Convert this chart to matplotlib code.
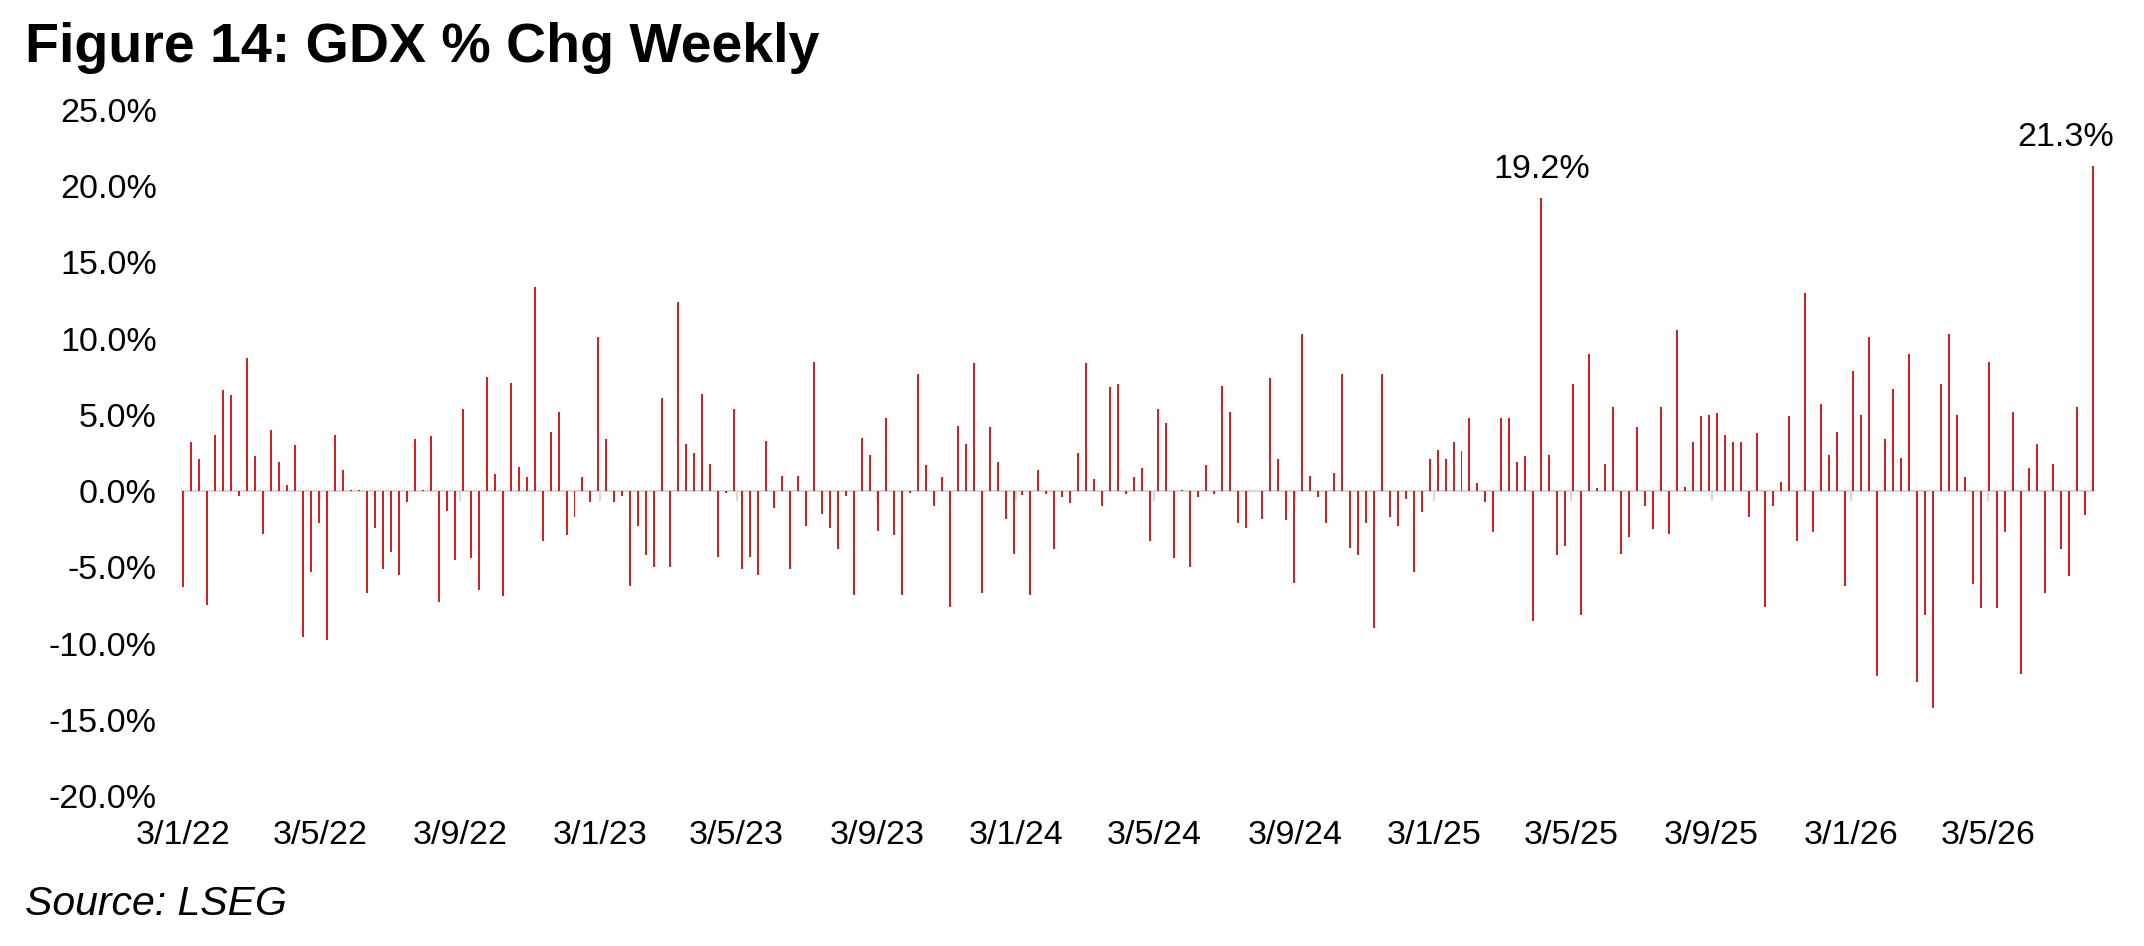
import pandas as pd
import matplotlib
matplotlib.use("Agg")
import matplotlib.pyplot as plt
import matplotlib.dates as mdates
from matplotlib.ticker import FuncFormatter

plt.rcParams['font.family'] = ['Liberation Sans', 'DejaVu Sans']

# weekly % change of GDX, one value per week (Mondays)
chg_2022 = [-6.3, 3.2, 2.1, -7.5, 3.7, 6.6, 6.3, -0.3, 8.7, 2.3,
            -2.8, 4.0, 1.9, 0.4, 3.0, -9.6, -5.3, -2.1, -9.8, 3.7,
            1.4, 0.1, 0.05, -6.7, -2.4, -5.1, -4.0, -5.5, -0.7, 3.4,
            0.1, 3.6, -7.3, -1.3, -4.5, 5.4, -4.4, -6.5, 7.5, 1.1,
            -6.9, 7.1, 1.6, 0.9, 13.4, -3.3, 3.9, 5.2, -2.9, -1.7,
            0.9, -0.7]
chg_2023 = [10.1, 3.4, -0.7, -0.3, -6.2, -2.3, -4.2, -5.0, 6.1, -5.0,
            12.4, 3.1, 2.5, 6.4, 1.8, -4.3, -0.15, 5.4, -5.1, -4.3,
            -5.5, 3.3, -1.1, 1.0, -5.1, 1.0, -2.3, 8.5, -1.5, -2.4,
            -3.8, -0.3, -6.8, 3.5, 2.4, -2.6, 4.8, -2.9, -6.8, -0.1,
            7.7, 1.7, -1.0, 0.9, -7.6, 4.3, 3.1, 8.4, -6.7, 4.2,
            1.9, -1.8]
chg_2024 = [-4.1, -0.25, -6.8, 1.4, -0.2, -3.8, -0.4, -0.8, 2.5, 8.4,
            0.8, -1.0, 6.8, 7.0, -0.2, 0.9, 1.5, -3.3, 5.4, 4.5,
            -4.4, 0.05, -5.0, -0.4, 1.7, -0.2, 6.9, 5.2, -2.1, -2.4,
            0.0, -1.8, 7.4, 2.1, -1.9, -6.0, 10.3, 1.0, -0.4, -2.1,
            1.2, 7.7, -3.7, -4.2, -2.1, -9.0, 7.7, -1.7, -2.3, -0.5,
            -5.3, -1.4, 2.1]
chg_2025 = [2.7, 2.1, 3.2, 2.6, 4.8, 0.5, -0.7, -2.7, 4.8, 4.8,
            1.9, 2.3, -8.5, 19.2, 2.4, -4.2, -3.6, 7.0, -8.1, 9.0,
            0.2, 1.8, 5.5, -4.1, -3.0, 4.2, -1.0, -2.5, 5.5, -2.8,
            10.6, 0.3, 3.2, 4.9, 5.0, 5.1, 3.7, 3.2, 3.2, -1.7,
            3.8, -7.6, -1.0, 0.6, 4.9, -3.3, 13.0, -2.7, 5.7, 2.4,
            3.9, -6.2]
chg_2026 = [7.9, 5.0, 10.1, -12.1, 3.4, 6.7, 2.2, 9.0, -12.5, -8.1,
            -14.2, 7.0, 10.3, 5.0, 0.9, -6.1, -7.7, 8.5, -7.7, -2.7,
            5.2, -12.0, 1.5, 3.1, -6.7, 1.8, -3.8, -5.6, 5.5, -1.6,
            21.3]

first_week = "2022-01-03"
labelled = [19.2, 21.3]   # bars that carry a data label

values = chg_2022 + chg_2023 + chg_2024 + chg_2025 + chg_2026
dates = pd.date_range(first_week, periods=len(values), freq="W-MON")

bar_col = '#d81e1e'
axis_col = '#d9d9d9'

fig = plt.figure(figsize=(21.44, 9.46), dpi=100)
ax = fig.add_axes([0.0816, 0.1586, 0.9025, 0.7251])

ax.bar(dates, values, width=1.75, color=bar_col, linewidth=0)

# zero line with the little grey ticks hanging from it
ax.hlines(0, dates[0] - pd.Timedelta(days=2), dates[-1] + pd.Timedelta(days=2),
          color=axis_col, lw=1.6, zorder=0)
# ticks on the 3rd of Jan / May / Sep
tick_dates = pd.date_range("2022-01-01", dates[-1], freq="4MS") + pd.Timedelta(days=2)
ax.vlines(tick_dates, -0.65, 0, color=axis_col, lw=1.6, zorder=0)

ax.set_ylim(-20, 25)
ax.set_xlim(dates[0] - pd.Timedelta(days=7), dates[0] + pd.Timedelta(days=1688))
ax.set_yticks(range(-20, 26, 5))
ax.yaxis.set_major_formatter(FuncFormatter(lambda v, p: "%.1f%%" % v))
ax.set_xticks(tick_dates)
ax.xaxis.set_major_formatter(FuncFormatter(
    lambda v, p: "%d/%d/%s" % (mdates.num2date(v).day, mdates.num2date(v).month,
                               mdates.num2date(v).strftime("%y"))))
ax.tick_params(axis='y', length=0, pad=13, labelsize=24.5)
ax.tick_params(axis='x', length=0, pad=17, labelsize=24.5)
for s in ax.spines.values():
    s.set_visible(False)

# data labels on the two big weeks
for i, v in enumerate(values):
    if v in labelled:
        dx = -19.5 if i == len(values) - 1 else 0
        ax.annotate("%.1f%%" % v, (dates[i], v), xytext=(dx, 14.5),
                    textcoords='offset points', ha='center', va='baseline',
                    fontsize=24.5)

fig.text(25 / 2144, 1 - 62 / 946, "Figure 14: GDX % Chg Weekly",
         fontsize=40, fontweight='bold', va='baseline')
fig.text(25 / 2144, 1 - 915 / 946, "Source: LSEG",
         fontsize=29.5, style='italic', va='baseline')

fig.savefig("out.png", dpi=100)
